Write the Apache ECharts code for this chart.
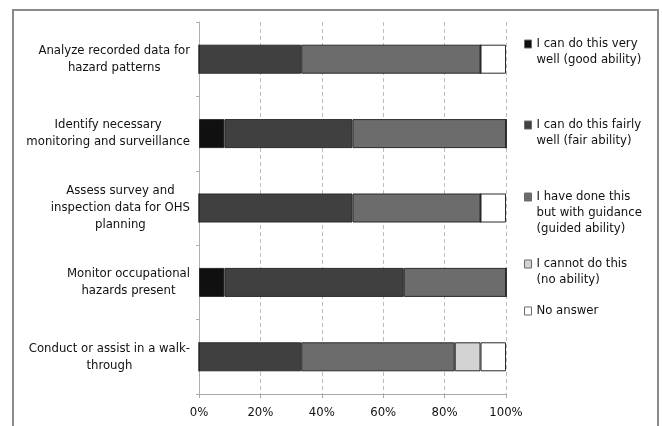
<!DOCTYPE html>
<html>
<head>
<meta charset="utf-8">
<script src="https://cdn.jsdelivr.net/npm/echarts@6/dist/echarts.min.js"></script>
<style>
  html, body { margin: 0; padding: 0; background: #fff; }
  #chart { width: 662px; height: 426px; }
</style>
</head>
<body>
<div id="chart"></div>
<script>
// Competency statements, top to bottom
const categories = [
  'Analyze recorded data for\nhazard patterns',
  'Identify necessary\nmonitoring and surveillance',
  'Assess survey and\ninspection data for OHS\nplanning',
  'Monitor occupational\nhazards present',
  'Conduct or assist in a walk-\nthrough'
];

// Response shares (%) per statement, same order as categories
const goodAbility   = [0,    8.3,  0,    8.3,  0];
const fairAbility   = [33.3, 41.7, 50,   58.4, 33.3];
const guidedAbility = [58.4, 50,   41.7, 33.3, 50];
const noAbility     = [0,    0,    0,    0,    8.4];
const noAnswer      = [8.3,  0,    8.3,  0,    8.3];

const seriesNames = [
  'I can do this very well (good ability)',
  'I can do this fairly well (fair ability)',
  'I have done this but with guidance (guided ability)',
  'I cannot do this (no ability)',
  'No answer'
];
// Wrapped legend text for each series
const legendLines = [
  ['I can do this very', 'well (good ability)'],
  ['I can do this fairly', 'well (fair ability)'],
  ['I have done this', 'but with guidance', '(guided ability)'],
  ['I cannot do this', '(no ability)'],
  ['No answer']
];
const xTicks = [0, 20, 40, 60, 80, 100];

const seriesData = [goodAbility, fairAbility, guidedAbility, noAbility, noAnswer];
const colors = ['#101010', '#404040', '#6c6c6c', '#d2d2d2', '#ffffff'];
// vertical centre of each legend entry's first text line
const legendFirstLine = [44, 125, 197, 264, 311];

const FONT = '"DejaVu Sans Condensed", "Liberation Sans Narrow", sans-serif';
const LINE_H = 16;

const chart = echarts.init(document.getElementById('chart'), null, { renderer: 'canvas' });

// One legend per entry so each can sit at its own height; blank lines above the
// text keep the swatch level with the first text line.
const legends = seriesNames.map((name, i) => {
  const n = legendLines[i].length;
  const lines = Array(n - 1).fill(' ').concat(legendLines[i]);
  return {
    data: [name],
    left: 524,
    top: legendFirstLine[i] - (2 * n - 1) * LINE_H / 2,
    padding: 0,
    orient: 'vertical',
    itemWidth: 7,
    itemHeight: 8,
    icon: 'rect',
    selectedMode: false,
    itemStyle: { borderColor: '#6a6a6a', borderWidth: 1 },
    formatter: () => lines.join('\n'),
    textStyle: {
      fontFamily: FONT,
      fontSize: 13,
      color: '#111',
      lineHeight: LINE_H
    }
  };
});

chart.setOption({
  animation: false,
  backgroundColor: '#fff',
  graphic: [{
    type: 'rect',
    shape: { x: 13, y: 10, width: 645, height: 430 },
    style: { fill: 'none', stroke: '#8a8a8a', lineWidth: 2 },
    silent: true
  }],
  legend: legends,
  grid: { left: 199, right: 156, top: 22, bottom: 32, containLabel: false },
  xAxis: {
    type: 'value',
    min: 0,
    max: 100,
    interval: 20,
    axisLine: { show: true, lineStyle: { color: '#a8a8a8', width: 1 } },
    axisTick: { show: true, length: 4, lineStyle: { color: '#a8a8a8' } },
    axisLabel: {
      margin: 12,
      fontFamily: FONT,
      fontSize: 13,
      color: '#111',
      formatter: v => xTicks.includes(v) ? v + '%' : ''
    },
    splitLine: { show: true, lineStyle: { color: '#bdbdbd', type: [4, 3], width: 1 } }
  },
  yAxis: {
    type: 'category',
    data: categories,
    inverse: true,
    axisLine: { show: true, lineStyle: { color: '#b0b0b0', width: 1 } },
    axisTick: { show: true, length: 3, lineStyle: { color: '#b0b0b0' } },
    axisLabel: {
      margin: 9,
      align: 'right',
      fontFamily: FONT,
      fontSize: 13,
      color: '#111',
      lineHeight: 17,
      formatter: v => v.split('\n').map(s => '{c|' + s + '}').join('\n'),
      rich: { c: { align: 'center', fontFamily: FONT, fontSize: 13, color: '#111', lineHeight: 17 } }
    },
    splitLine: { show: false }
  },
  series: seriesNames.map((name, i) => ({
    name,
    type: 'bar',
    stack: 'total',
    barWidth: 29,
    data: seriesData[i],
    itemStyle: { color: colors[i], borderColor: '#2a2a2a', borderWidth: 1 },
    emphasis: { disabled: true }
  }))
});
</script>
</body>
</html>
